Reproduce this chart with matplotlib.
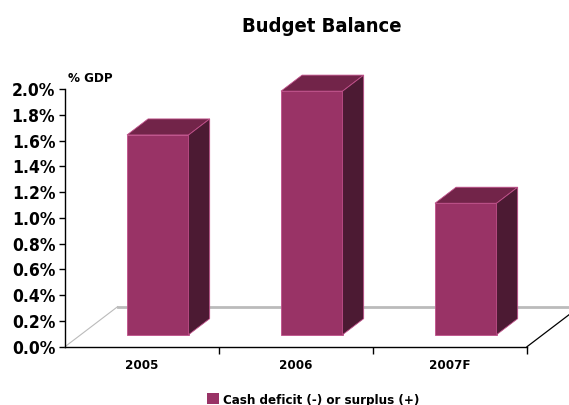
import matplotlib.pyplot as plt
from matplotlib.patches import Polygon, Rectangle, Patch
import numpy as np

# data
years = ['2005', '2006', '2007F']
balance = [1.55, 1.89, 1.02]   # % of GDP
yticks = np.arange(0, 2.01, 0.2)

plt.rcParams['font.family'] = ['DejaVu Sans']
plt.rcParams['font.stretch'] = 'condensed'
plt.rcParams['font.weight'] = 'bold'

front_c = '#993366'
top_c = '#722449'
side_c = '#4c1a33'
edge_c = '#c0508a'

# oblique depth of the floor, in data units
dx, dy = 0.342, 0.311
d0, d1 = 0.3, 0.7    # bar sits between these fractions of the depth
half = 0.2

fig = plt.figure(figsize=(5.69, 4.05), dpi=100)
ax = fig.add_axes([65/569, 58.3/405, 504/569, 257.7/405])
ax.set_xlim(-0.5, 2.5 + 42/154)
ax.set_ylim(0, 2.0)

# floor
ax.plot([-0.5, -0.5 + dx], [0, dy], color='#bbbbbb', lw=0.8, clip_on=False)
ax.plot([-0.5 + dx, 2.5 + dx], [dy, dy], color='#bbbbbb', lw=2, clip_on=False)
ax.plot([2.5, 2.5 + dx], [0, dy], color='black', lw=0.9, clip_on=False)

for i, v in enumerate(balance):
    x0 = i - half + d0 * dx
    x1 = i + half + d0 * dx
    y0 = d0 * dy
    ddx = (d1 - d0) * dx
    ddy = (d1 - d0) * dy
    ax.add_patch(Rectangle((x0, y0), x1 - x0, v, facecolor=front_c,
                           edgecolor=edge_c, lw=0.6, clip_on=False, zorder=3))
    ax.add_patch(Polygon([(x0, y0 + v), (x1, y0 + v), (x1 + ddx, y0 + v + ddy),
                          (x0 + ddx, y0 + v + ddy)], closed=True, facecolor=top_c,
                         edgecolor=edge_c, lw=0.6, clip_on=False, zorder=3))
    ax.add_patch(Polygon([(x1, y0), (x1 + ddx, y0 + ddy), (x1 + ddx, y0 + v + ddy),
                          (x1, y0 + v)], closed=True, facecolor=side_c,
                         edgecolor=edge_c, lw=0.6, clip_on=False, zorder=3))

for s in ['top', 'right']:
    ax.spines[s].set_visible(False)
ax.spines['left'].set_bounds(0, 2.0)
ax.spines['bottom'].set_bounds(-0.5, 2.5)
ax.spines['left'].set_linewidth(1)
ax.spines['bottom'].set_linewidth(1)

ax.set_yticks(yticks)
ax.set_yticklabels(['%.1f%%' % t for t in yticks], fontsize=12.5, fontweight='bold')
ax.tick_params(axis='y', length=4, width=1, pad=3)

ax.set_xticks(range(len(years)))
ax.set_xticklabels(years, fontsize=9.5, fontweight='bold')
ax.tick_params(axis='x', length=0, pad=9)
ax.set_xticks([0.5, 1.5, 2.5], minor=True)
ax.tick_params(axis='x', which='minor', length=5, width=1)

fig.text(322/569, 1 - 27/405, 'Budget Balance', ha='center', va='center',
         fontsize=14.5, fontweight='bold')
fig.text(68/569, 1 - 79/405, '% GDP', ha='left', va='center',
         fontsize=9.5, fontweight='bold')

fig.legend(handles=[Patch(facecolor=front_c, label='Cash deficit (-) or surplus (+)')],
           loc='center', bbox_to_anchor=(313/569, 1 - 400/405), frameon=False,
           fontsize=9.5, handlelength=0.9, handleheight=0.9, handletextpad=0.3,
           borderpad=0)

fig.savefig('out.png', dpi=100)
